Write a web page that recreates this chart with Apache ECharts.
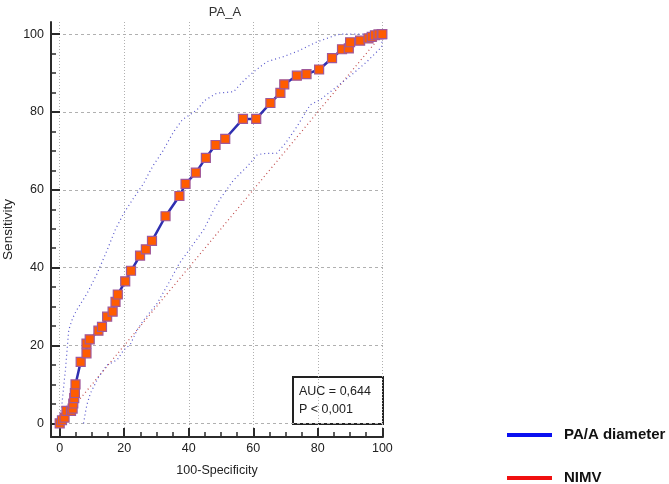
<!DOCTYPE html>
<html>
<head>
<meta charset="utf-8">
<script src="https://cdn.jsdelivr.net/npm/echarts@6/dist/echarts.min.js"></script>
<style>
  html, body { margin: 0; padding: 0; background: #fff; }
  #main { width: 669px; height: 484px; }
</style>
</head>
<body>
<div id="main"></div>
<script>
// ROC curve points [100-Specificity, Sensitivity]
var rocPoints = [
  [0, 0], [0.7, 0.8], [1.5, 1.5], [2.1, 3.2], [3.5, 3.2], [4.0, 3.8], [4.2, 5.1],
  [4.5, 6.5], [4.7, 7.8], [4.9, 10.0], [6.5, 15.8], [8.3, 18.0], [8.3, 20.5],
  [9.3, 21.6], [12.0, 23.8], [13.1, 24.8], [14.7, 27.4], [16.4, 28.7], [17.3, 31.2],
  [18.0, 33.1], [20.3, 36.5], [22.1, 39.2], [24.9, 43.1], [26.7, 44.7], [28.6, 46.9],
  [32.8, 53.2], [37.1, 58.4], [39.0, 61.5], [42.2, 64.4], [45.3, 68.2], [48.3, 71.5],
  [51.3, 73.1], [56.8, 78.2], [60.9, 78.2], [65.3, 82.3], [68.4, 84.9], [69.6, 87.1],
  [73.5, 89.3], [76.5, 89.7], [80.4, 90.9], [84.4, 93.8], [87.5, 96.1], [89.6, 96.3],
  [90.0, 97.9], [93.1, 98.3], [95.7, 98.9], [96.7, 99.3], [97.7, 99.7], [98.8, 99.9],
  [99.8, 100], [100, 100]
];
// 95% confidence bounds
var upperBand = [
  [0, 0], [0.3, 3], [0.7, 5], [1.3, 10], [1.8, 14], [2.3, 19], [2.8, 24], [4.0, 27],
  [5.2, 29], [8.5, 33.4], [11.6, 38.5], [14.7, 44.5], [17.2, 49.7], [19.8, 53.9],
  [23.0, 58.0], [26.0, 61.6], [27.6, 64.2], [29.1, 66.4], [32.0, 70.0], [35.3, 74.9],
  [38.0, 78.0], [42.5, 80.5], [45.0, 83.0], [48.7, 84.8], [53.9, 85.2], [57.0, 88.0],
  [60.1, 90.3], [64.2, 92.9], [69.3, 94.2], [73.5, 95.5], [76.0, 96.5], [79.2, 97.8],
  [83.8, 99.2], [86.9, 100], [100, 100]
];
var lowerBand = [
  [7.4, 0], [8.0, 3], [8.5, 5], [9.5, 7.7], [12.1, 12.0], [14.7, 15.0], [17.8, 16.3],
  [19.8, 18.8], [21.9, 20.3], [24.0, 24.0], [26.0, 26.5], [30.2, 30.8], [34.3, 36.8],
  [37.0, 41.0], [40.5, 45.0], [44.6, 49.7], [47.7, 54.8], [50.0, 58.0], [53.9, 62.5],
  [58.0, 65.9], [61.1, 68.9], [63.0, 69.3], [67.3, 69.4], [70.0, 72.0], [73.5, 76.2],
  [77.6, 81.8], [80.7, 83.1], [85.9, 86.5], [91.0, 89.9], [95.2, 92.9], [99.8, 96.7],
  [100, 100]
];
var diagonal = [[0, 0], [100, 100]];

var majorTicks = [0, 20, 40, 60, 80, 100];
var minorTicks = [0, 5, 10, 15, 20, 25, 30, 35, 40, 45, 50, 55, 60, 65, 70, 75, 80, 85, 90, 95, 100];
var aucLines = ['AUC = 0,644', 'P < 0,001'];

var chart = echarts.init(document.getElementById('main'));

var axisColor = '#2b2b2b';
var font = 'Liberation Sans, Arial, sans-serif';
var xMin = -2.7, xMax = 100.2, yMin = -3.5, yMax = 103.1;

function minorAxis(extra) {
  return Object.assign({
    type: 'value',
    gridIndex: 0,
    axisLine: { show: false, onZero: false },
    axisLabel: { show: false },
    splitLine: { show: false },
    axisTick: {
      inside: true, length: 5, customValues: minorTicks,
      lineStyle: { color: axisColor, width: 1.5 }
    }
  }, extra);
}

// one legend box per entry so they stack like the original
function legendBox(name, color, top) {
  return {
    left: 502,
    top: top,
    icon: 'rect',
    itemWidth: 45,
    itemHeight: 4,
    selectedMode: false,
    textStyle: {
      fontFamily: font, fontSize: 15, fontWeight: 'bold', color: '#111',
      lineHeight: 16, padding: [0, 0, 0, 7]
    },
    data: [{ name: name, itemStyle: { color: color, borderWidth: 0 } }]
  };
}

var option = {
  animation: false,
  backgroundColor: '#fff',
  title: {
    text: 'PA_A',
    left: 220,
    top: 1,
    textAlign: 'center',
    textStyle: { fontFamily: font, fontSize: 13, fontWeight: 'normal', color: '#333' }
  },
  grid: { left: 50, right: 286, top: 22, bottom: 47 },
  legend: [
    legendBox('PA/A diameter', '#0a10f0', 422),
    legendBox('NIMV', '#f01010', 465)
  ],
  xAxis: [{
    type: 'value',
    min: xMin, max: xMax,
    position: 'bottom',
    name: '100-Specificity',
    nameLocation: 'middle',
    nameGap: 27,
    nameTextStyle: { fontFamily: font, fontSize: 12.5, color: '#222' },
    axisLine: { onZero: false, lineStyle: { color: axisColor, width: 2 } },
    axisTick: { inside: true, length: 9, customValues: majorTicks, lineStyle: { color: axisColor, width: 2 } },
    axisLabel: { customValues: majorTicks, margin: 5, fontFamily: font, fontSize: 12.5, color: '#222' },
    splitLine: { show: true, lineStyle: { color: '#b0b0b0', width: 1, type: [1, 2] } }
  }, minorAxis({ min: xMin, max: xMax, position: 'bottom' })],
  yAxis: [{
    type: 'value',
    min: yMin, max: yMax,
    position: 'left',
    name: 'Sensitivity',
    nameLocation: 'middle',
    nameGap: 36,
    nameTextStyle: { fontFamily: font, fontSize: 13.5, color: '#222' },
    axisLine: { onZero: false, lineStyle: { color: axisColor, width: 2 } },
    axisTick: { inside: true, length: 9, customValues: majorTicks, lineStyle: { color: axisColor, width: 2 } },
    axisLabel: { customValues: majorTicks, margin: 7, fontFamily: font, fontSize: 12.5, color: '#222' },
    splitLine: { show: true, lineStyle: { color: '#b0b0b0', width: 1, type: [3, 3] } }
  }, minorAxis({ min: yMin, max: yMax, position: 'left' })],
  series: [
    {
      name: 'NIMV',
      type: 'line',
      data: diagonal,
      symbol: 'none',
      lineStyle: { color: '#c04a4a', width: 1.2, type: [1, 3] },
      z: 2
    },
    {
      name: 'upper',
      type: 'line',
      data: upperBand,
      symbol: 'none',
      lineStyle: { color: '#5555cc', width: 1.2, type: [1, 3] },
      z: 2
    },
    {
      name: 'lower',
      type: 'line',
      data: lowerBand,
      symbol: 'none',
      lineStyle: { color: '#5555cc', width: 1.2, type: [1, 3] },
      z: 2
    },
    {
      name: 'PA/A diameter',
      type: 'line',
      data: rocPoints,
      symbol: 'rect',
      symbolSize: 9,
      showAllSymbol: true,
      lineStyle: { color: '#2f2fb0', width: 2.5 },
      itemStyle: { color: '#ff5c00', borderColor: '#a0589a', borderWidth: 1.2 },
      z: 5
    }
  ],
  graphic: [{
    type: 'group',
    left: 292,
    top: 376,
    z: 10,
    children: [
      { type: 'rect', shape: { x: 0, y: 0, width: 90, height: 47 }, style: { fill: '#fff', stroke: '#222', lineWidth: 2 } },
      { type: 'text', x: 6, y: 15, style: { text: aucLines[0], fill: '#222', fontSize: 12.5, fontFamily: font, verticalAlign: 'middle' } },
      { type: 'text', x: 6, y: 33, style: { text: aucLines[1], fill: '#222', fontSize: 12.5, fontFamily: font, verticalAlign: 'middle' } }
    ]
  }]
};

chart.setOption(option);
</script>
</body>
</html>
